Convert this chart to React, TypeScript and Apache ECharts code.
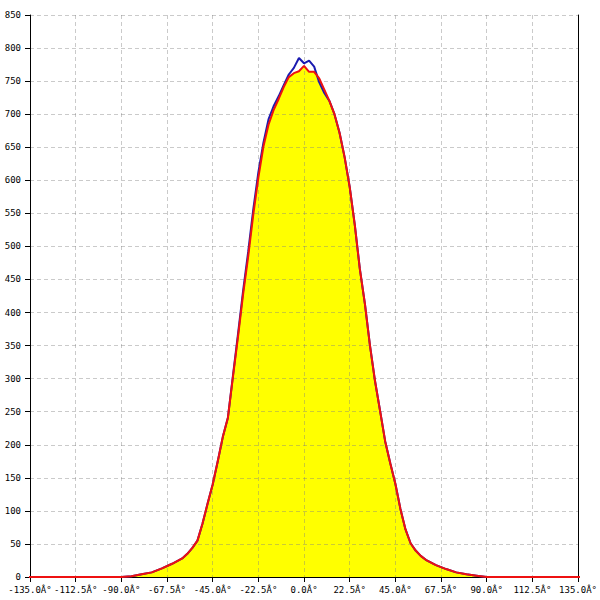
import React, { useEffect, useRef } from "react";
import * as echarts from "echarts";

const angles = [
  -150, -90, -85, -80, -75, -70, -65, -60, -57.5, -55, -52.5, -50, -47.5, -45, -42.5, -40,
  -37.5, -35, -32.5, -30, -27.5, -25, -22.5, -20, -17.5, -15, -12.5, -10, -7.5, -5, -2.5, 0,
  2.5, 5, 7.5, 10, 12.5, 15, 17.5, 20, 22.5, 25, 27.5, 30, 32.5, 35, 37.5, 40, 42.5, 45,
  47.5, 50, 52.5, 55, 57.5, 60, 65, 70, 75, 80, 85, 90, 150,
];

const redValues = [
  0, 0, 1, 4, 7, 13, 20, 28, 35, 44, 55, 81, 111, 140, 175, 212,
  241, 303, 364, 428, 485, 548, 604, 651, 684, 706, 723, 741, 756, 762, 765, 773,
  764, 764, 754, 737, 720, 700, 672, 635, 590, 533, 466, 413, 350, 296, 251, 205, 172, 141,
  103, 72, 51, 40, 32, 26, 18, 12, 7, 4, 2, 0, 0,
];

const blueValues = [
  0, 0, 1, 4, 7, 13, 20, 28, 35, 44, 55, 81, 111, 140, 175, 212,
  241, 305, 368, 433, 492, 556, 612, 657, 692, 712, 727, 744, 760, 770, 785, 777,
  781, 772, 748, 732, 720, 700, 672, 635, 590, 533, 466, 413, 350, 296, 251, 205, 172, 141,
  103, 72, 51, 40, 32, 26, 18, 12, 7, 4, 2, 0, 0,
];

const xMin = -135;
const xMax = 135;
const xStep = 22.5;
const yMin = 0;
const yMax = 850;
const yStep = 50;
const degreeSuffix = "Â°";

export default function App() {
  const ref = useRef<HTMLDivElement>(null);

  useEffect(() => {
    if (!ref.current) return;
    document.body.style.margin = "0";
    const chart = echarts.init(ref.current, null, { renderer: "svg", width: 600, height: 600 });
    const red = angles.map((a, i) => [a, redValues[i]]);
    const blue = angles.map((a, i) => [a, blueValues[i]]);
    const font = "DejaVu Sans Mono";
    const gridLine = { show: true, lineStyle: { color: "rgba(128,128,128,0.42)", type: [4, 3], width: 1 } };
    chart.setOption({
      animation: false,
      backgroundColor: "#ffffff",
      grid: { left: 30, top: 15, width: 555, height: 562, containLabel: false },
      xAxis: {
        type: "value",
        min: xMin,
        max: xMax,
        interval: xStep,
        axisLine: { show: true, onZero: false, lineStyle: { color: "#000", width: 1 } },
        axisTick: { show: true, length: 5, lineStyle: { color: "#000" } },
        axisLabel: {
          show: true,
          color: "#000",
          fontFamily: font,
          fontSize: 9,
          margin: 8,
          formatter: (v: number) => v.toFixed(1) + degreeSuffix,
        },
        splitLine: gridLine,
      },
      yAxis: [
        {
          type: "value",
          min: yMin,
          max: yMax,
          interval: yStep,
          axisLine: { show: true, onZero: false, lineStyle: { color: "#000", width: 1 } },
          axisTick: { show: true, length: 5, lineStyle: { color: "#000" } },
          axisLabel: { color: "#000", fontFamily: font, fontSize: 9, margin: 9 },
          splitLine: gridLine,
        },
        {
          type: "value",
          position: "right",
          min: yMin,
          max: yMax,
          interval: yStep,
          axisLine: { show: true, onZero: false, lineStyle: { color: "#000", width: 1 } },
          axisTick: { show: false },
          axisLabel: { show: false },
          splitLine: { show: false },
        },
      ],
      series: [
        {
          type: "line",
          data: red,
          z: -1,
          symbol: "none",
          clip: true,
          lineStyle: { width: 0, opacity: 0 },
          areaStyle: { color: "#ffff00", opacity: 1 },
          silent: true,
        },
        {
          type: "line",
          data: blue,
          symbol: "none",
          clip: false,
          lineStyle: { color: "#1a1ab0", width: 2 },
        },
        {
          type: "line",
          data: red,
          symbol: "none",
          clip: false,
          lineStyle: { color: "#ee1111", width: 2 },
        },
      ],
    });
    return () => chart.dispose();
  }, []);

  return (
    <div
      ref={ref}
      style={{ position: "fixed", left: 0, top: 0, width: 600, height: 600, background: "#fff" }}
    />
  );
}
